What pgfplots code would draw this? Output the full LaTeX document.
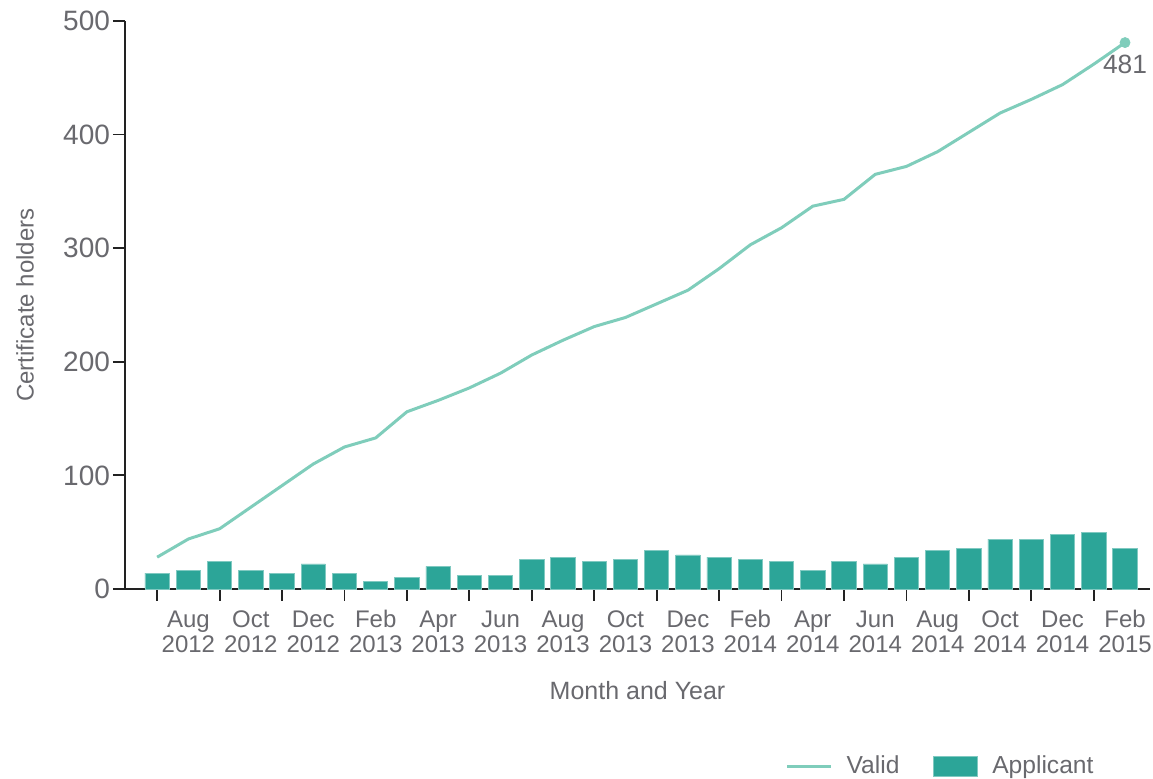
\documentclass[border=0pt]{standalone}
\usepackage{fontspec}
\setmainfont{Liberation Sans}
\usepackage{pgfplots}
\pgfplotsset{compat=1.18}
\definecolor{linecol}{RGB}{127,205,187}
\definecolor{barcol}{RGB}{44,165,152}
\definecolor{txt}{RGB}{105,105,110}
\definecolor{axcol}{RGB}{34,34,34}
\newcommand\xtlfont{\fontsize{12}{12.4}\selectfont\lineskiplimit=-20pt\relax\lineskip=0pt\relax}
\newcommand\tl[2]{\vphantom{FbAg}#1\\#2}
\begin{document}
\begin{tikzpicture}
\path[use as bounding box] (0,0) rectangle (576.5pt,389.5pt);
\begin{axis}[
  at={(62.5pt,95pt)}, anchor=south west,
  scale only axis, width=512.5pt, height=284pt,
  xmin=-1.03, xmax=31.8, ymin=0, ymax=500,
  clip=false,
  axis x line*=bottom, axis y line*=left,
  axis line style={axcol, line width=0.9pt},
  tick style={axcol, line width=0.9pt},
  tick align=outside, major tick length=6pt,
  ytick={0,100,...,500},
  /pgf/number format/assume math mode=true,
  yticklabel style={font=\fontsize{14}{16}\selectfont, text=txt, xshift=2pt},
  xtick={0,2,...,30}, xticklabels={},
  extra x ticks={1,3,...,31},
  extra x tick labels={{\tl{Aug}{2012}},{\tl{Oct}{2012}},{\tl{Dec}{2012}},{\tl{Feb}{2013}},{\tl{Apr}{2013}},{\tl{Jun}{2013}},{\tl{Aug}{2013}},{\tl{Oct}{2013}},{\tl{Dec}{2013}},{\tl{Feb}{2014}},{\tl{Apr}{2014}},{\tl{Jun}{2014}},{\tl{Aug}{2014}},{\tl{Oct}{2014}},{\tl{Dec}{2014}},{\tl{Feb}{2015}}},
  extra x tick style={major tick length=0pt},
  xticklabel style={align=center, font=\xtlfont, text=txt, anchor=north, yshift=-7pt},
  xlabel={Month and Year},
  ylabel={Certificate holders},
  every axis x label/.style={at={(axis description cs:0.5,-0.178)}, anchor=center, font=\fontsize{12.5}{14}\selectfont, text=txt},
  every axis y label/.style={at={(axis description cs:-0.0976,0.5)}, rotate=90, anchor=center, font=\fontsize{12}{14}\selectfont, text=txt},
  legend columns=2,
  legend style={draw=none, fill=none, at={(axis description cs:0.955,-0.312)}, anchor=east, font=\fontsize{12.3}{14}\selectfont, text=txt,
    /tikz/every odd column/.append style={column sep=5pt},
    /tikz/every even column/.append style={column sep=15pt}},
]
\addplot[linecol, line width=1.5pt,
  legend image code/.code={\draw[linecol, line width=1.5pt] (0pt,0pt) -- (22pt,0pt);}]
  coordinates {(0,28) (1,44) (2,53) (3,72) (4,91) (5,110) (6,125) (7,133) (8,156) (9,166) (10,177) (11,190) (12,206) (13,219) (14,231) (15,239) (16,251) (17,263) (18,282) (19,303) (20,318) (21,337) (22,343) (23,365) (24,372) (25,385) (26,402) (27,419) (28,431) (29,444) (30,462) (31,481)};
\addlegendentry{Valid}
\addplot[ybar, bar width=0.78, bar shift=0pt, fill=barcol, draw=barcol!60!white, line width=0.4pt,
  legend image code/.code={\draw[fill=barcol, draw=barcol!60!white, line width=0.4pt] (0pt,-5pt) rectangle (22pt,5pt);}]
  coordinates {(0,14) (1,16) (2,24) (3,16) (4,14) (5,22) (6,14) (7,7) (8,10) (9,20) (10,12) (11,12) (12,26) (13,28) (14,24) (15,26) (16,34) (17,30) (18,28) (19,26) (20,24) (21,16) (22,24) (23,22) (24,28) (25,34) (26,36) (27,44) (28,44) (29,48) (30,50) (31,36)};
\addlegendentry{Applicant}
\addplot[only marks, mark=*, mark size=2.5pt, color=linecol, forget plot]
  coordinates {(31,481)} node[anchor=north, inner sep=0pt, yshift=-6pt, font=\fontsize{13.2}{15}\selectfont, text=txt] {481};
\end{axis}
\end{tikzpicture}
\end{document}
